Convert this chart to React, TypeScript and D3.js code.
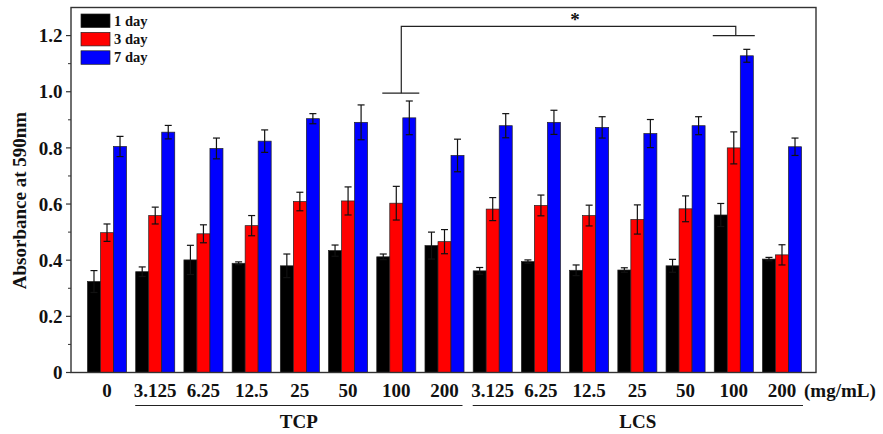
import React from "react";
import * as d3 from "d3";

const categories = ["0", "3.125", "6.25", "12.5", "25", "50", "100", "200", "3.125", "6.25", "12.5", "25", "50", "100", "200"];
const seriesNames = ["1 day", "3 day", "7 day"];
const seriesColors = ["#000000", "#ff0000", "#0000ff"];
const day1 = [0.324, 0.359, 0.401, 0.389, 0.380, 0.434, 0.412, 0.452, 0.362, 0.395, 0.364, 0.365, 0.380, 0.561, 0.404];
const day1Err = [0.039, 0.017, 0.052, 0.005, 0.042, 0.020, 0.010, 0.048, 0.012, 0.006, 0.019, 0.008, 0.023, 0.041, 0.006];
const day3 = [0.498, 0.559, 0.494, 0.523, 0.609, 0.611, 0.603, 0.466, 0.582, 0.595, 0.559, 0.545, 0.583, 0.800, 0.419];
const day3Err = [0.031, 0.030, 0.032, 0.036, 0.033, 0.050, 0.060, 0.043, 0.041, 0.037, 0.037, 0.052, 0.046, 0.057, 0.036];
const day7 = [0.805, 0.856, 0.798, 0.824, 0.904, 0.891, 0.907, 0.773, 0.879, 0.891, 0.873, 0.851, 0.879, 1.128, 0.804];
const day7Err = [0.036, 0.024, 0.037, 0.040, 0.018, 0.062, 0.060, 0.058, 0.043, 0.043, 0.038, 0.050, 0.032, 0.023, 0.031];
const yTicks = [0, 0.2, 0.4, 0.6, 0.8, 1.0, 1.2];
const yTickLabels = ["0", "0.2", "0.4", "0.6", "0.8", "1.0", "1.2"];
const minorTicks = [0.1, 0.3, 0.5, 0.7, 0.9, 1.1];
const groupNames = ["TCP", "LCS"];

const values = [day1, day3, day7];
const errors = [day1Err, day3Err, day7Err];

const FONT = "'Liberation Serif', 'Times New Roman', serif";

export default function App() {
  const W = 883, H = 434;
  const left = 71, right = 816, top = 7.5, bottom = 372.5;
  const idx = categories.map((_, i) => String(i));
  const x = d3.scaleBand<string>().domain(idx).range([82.9, 806.1]).paddingInner(0.19).paddingOuter(0.095);
  const inner = d3.scaleBand<string>().domain(["0", "1", "2"]).range([0, x.bandwidth()]);
  const y = d3.scaleLinear().domain([0, 1.3]).range([bottom, top]);
  const cap = 3.5;

  const cx = (i: number) => (x(String(i)) as number) + x.bandwidth() / 2;
  const bx1 = cx(6) + 5;
  const bx2 = cx(13) + 2;
  const yTopLine = y(1.233);
  const yL = y(0.995);
  const yR = y(1.2);

  const tcpStart = cx(1) - 20;
  const tcpEnd = cx(7) + 18;
  const lcsStart = cx(8) - 20;
  const lcsEnd = cx(14) + 21;

  return (
    <svg width={W} height={H} style={{ display: "block", position: "absolute", left: 0, top: 0 }}>
      <rect x={0} y={0} width={W} height={H} fill="#fff" />
      {categories.map((_, i) => (
        <g key={i} transform={`translate(${x(String(i))},0)`}>
          {values.map((s, k) => {
            const bx = inner(String(k)) as number;
            const bw = inner.bandwidth();
            const v = s[i];
            const e = errors[k][i];
            const mx = bx + bw / 2;
            return (
              <g key={k}>
                <rect x={bx} y={y(v)} width={bw} height={y(0) - y(v)} fill={seriesColors[k]} stroke="#222" strokeWidth={0.7} />
                <line x1={mx} x2={mx} y1={y(v + e)} y2={y(v - e)} stroke="#111" strokeWidth={1.2} />
                <line x1={mx - cap} x2={mx + cap} y1={y(v + e)} y2={y(v + e)} stroke="#111" strokeWidth={1.2} />
                <line x1={mx - cap} x2={mx + cap} y1={y(v - e)} y2={y(v - e)} stroke="#111" strokeWidth={1.2} />
              </g>
            );
          })}
        </g>
      ))}
      <rect x={left} y={top} width={right - left} height={bottom - top} fill="none" stroke="#333" strokeWidth={1.4} />
      {yTicks.map((t, i) => (
        <g key={t}>
          <line x1={left - 5} x2={left} y1={y(t)} y2={y(t)} stroke="#333" strokeWidth={1.2} />
          <text x={62.5} y={y(t)} dy="0.35em" textAnchor="end" fontFamily={FONT} fontWeight="bold" fontSize={19} fill="#111">{yTickLabels[i]}</text>
        </g>
      ))}
      {minorTicks.map((t) => (
        <line key={t} x1={left - 3} x2={left} y1={y(t)} y2={y(t)} stroke="#333" strokeWidth={1} />
      ))}
      <text transform={`translate(26,200.5) rotate(-90)`} textAnchor="middle" fontFamily={FONT} fontWeight="bold" fontSize={19} fill="#111">Absorbance at 590nm</text>
      {categories.map((c, i) => (
        <text key={i} x={cx(i)} y={396.5} textAnchor="middle" fontFamily={FONT} fontWeight="bold" fontSize={19} fill="#111">{c}</text>
      ))}
      <text x={804} y={396.5} fontFamily={FONT} fontWeight="bold" fontSize={19} fill="#111">(mg/mL)</text>
      <line x1={tcpStart} x2={tcpEnd} y1={405.5} y2={405.5} stroke="#222" strokeWidth={1.2} />
      <line x1={lcsStart} x2={lcsEnd} y1={405.5} y2={405.5} stroke="#222" strokeWidth={1.2} />
      <text x={(tcpStart + tcpEnd) / 2} y={428} textAnchor="middle" fontFamily={FONT} fontWeight="bold" fontSize={19} fill="#111">{groupNames[0]}</text>
      <text x={(lcsStart + lcsEnd) / 2} y={428} textAnchor="middle" fontFamily={FONT} fontWeight="bold" fontSize={19} fill="#111">{groupNames[1]}</text>
      <path d={`M${bx1},${yL}V${yTopLine}H${bx2}V${yR}`} fill="none" stroke="#222" strokeWidth={1.2} />
      <line x1={bx1 - 19} x2={bx1 + 18} y1={yL} y2={yL} stroke="#222" strokeWidth={1.2} />
      <line x1={bx2 - 23} x2={bx2 + 19} y1={yR} y2={yR} stroke="#222" strokeWidth={1.2} />
      <text x={575} y={yTopLine - 0.5} textAnchor="middle" fontFamily={FONT} fontWeight="bold" fontSize={19} fill="#111">*</text>
      {seriesNames.map((n, k) => (
        <g key={n} transform={`translate(81,${14 + k * 18.4})`}>
          <rect x={0} y={0} width={29} height={13.5} fill={seriesColors[k]} stroke="#222" strokeWidth={0.7} />
          <text x={33} y={11.5} fontFamily={FONT} fontWeight="bold" fontSize={14.5} fill="#111">{n}</text>
        </g>
      ))}
    </svg>
  );
}
